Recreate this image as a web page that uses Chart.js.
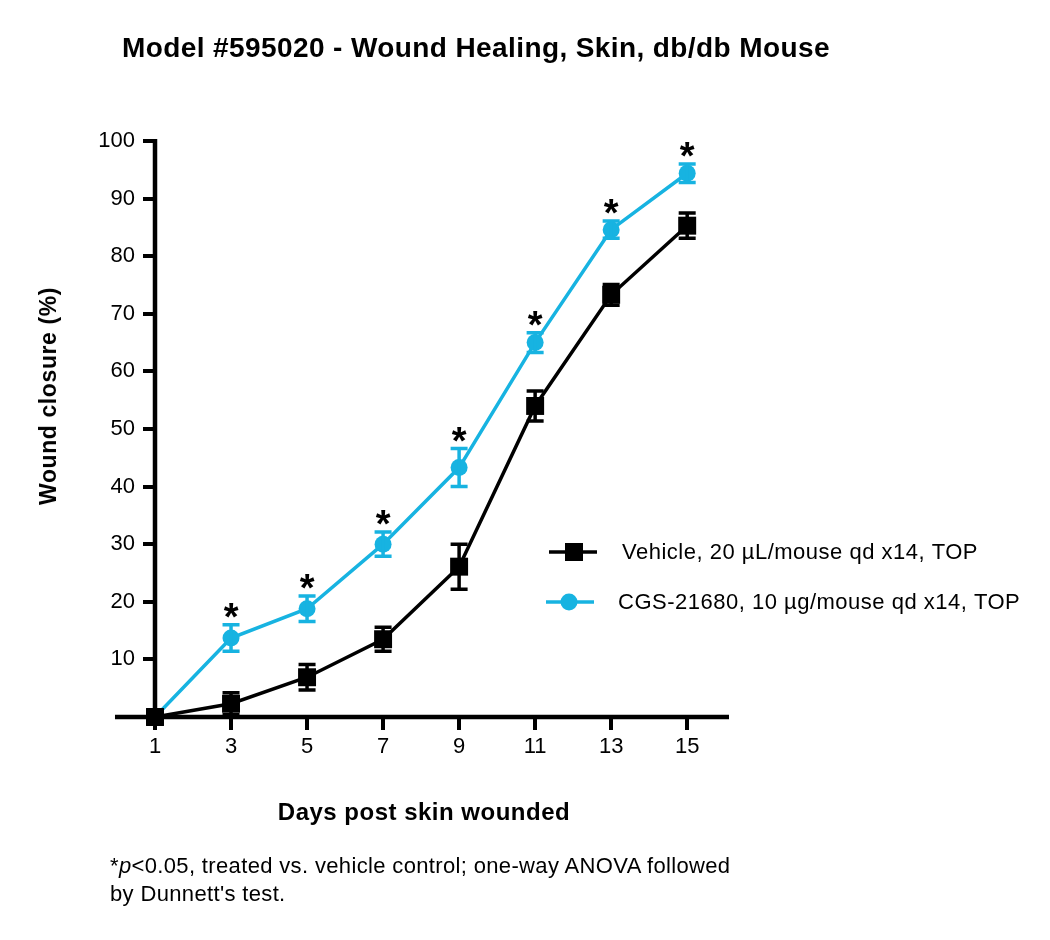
<!DOCTYPE html>
<html>
<head>
<meta charset="utf-8">
<script src="https://cdn.jsdelivr.net/npm/chart.js@4.4.1/dist/chart.umd.min.js"></script>
<style>
    body { margin: 0; background: #fff; }
    #wrap { position: relative; width: 1050px; height: 940px; font-family: "Liberation Sans", Arial, sans-serif; color: #000; }
    #chart { position: absolute; left: 0; top: 0; }
    .txt { position: absolute; white-space: nowrap; }
    #title { left: 122px; top: 32px; font-size: 28px; line-height: 32px; font-weight: bold; letter-spacing: 0.4px; }
    #xTitle { left: 424px; top: 798px; font-size: 24px; line-height: 28px; font-weight: bold; letter-spacing: 0.5px; transform: translateX(-50%); }
    #yTitle { left: 48px; top: 396px; font-size: 23px; line-height: 28px; font-weight: bold; letter-spacing: 0.6px; transform: translate(-50%, -50%) rotate(-90deg); }
    #note { left: 110px; top: 852px; font-size: 22px; line-height: 28px; letter-spacing: 0.35px; }
</style>
</head>
<body>
<div id="wrap">
    <canvas id="chart" width="1050" height="940"></canvas>
    <div class="txt" id="title">Model #595020 - Wound Healing, Skin, db/db Mouse</div>
    <div class="txt" id="yTitle">Wound closure (%)</div>
    <div class="txt" id="xTitle">Days post skin wounded</div>
    <div class="txt" id="note">*<i>p</i>&lt;0.05, treated vs. vehicle control; one-way ANOVA followed<br>by Dunnett's test.</div>
</div>
<script>
const days = [1, 3, 5, 7, 9, 11, 13, 15];
const xTicks = [1, 3, 5, 7, 9, 11, 13, 15];
const yTicks = [10, 20, 30, 40, 50, 60, 70, 80, 90, 100];

const vehicleLabel = 'Vehicle, 20 \u00b5L/mouse qd x14, TOP';
const vehicleMean = [0, 2.3, 6.9, 13.5, 26.1, 54.0, 73.3, 85.3];
const vehicleSem = [0, 1.9, 2.2, 2.1, 3.9, 2.6, 1.8, 2.2];

const cgsLabel = 'CGS-21680, 10 \u00b5g/mouse qd x14, TOP';
const cgsMean = [0, 13.7, 18.8, 30.0, 43.3, 65.0, 84.6, 94.4];
const cgsSem = [0, 2.3, 2.2, 2.1, 3.3, 1.7, 1.5, 1.6];
const cgsSig = [false, true, true, true, true, true, true, true];

const BLACK = '#000000';
const CYAN = '#17b3e1';

const series = [
    { label: vehicleLabel, mean: vehicleMean, sem: vehicleSem, color: BLACK, style: 'rect' },
    { label: cgsLabel, mean: cgsMean, sem: cgsSem, color: CYAN, style: 'circle' }
];

function toPoints(mean) {
    return days.map((d, i) => ({ x: d, y: mean[i] }));
}

function tickList(values) {
    return values.map(v => ({ value: v }));
}

// axis lines, x axis runs a bit left of the y axis like the original
const axisLines = {
    id: 'axisLines',
    beforeDatasetsDraw(chart) {
        const { ctx, scales: { x, y } } = chart;
        const y0 = y.getPixelForValue(0);
        const x0 = x.getPixelForValue(1);
        ctx.save();
        ctx.strokeStyle = BLACK;
        ctx.lineWidth = 4.5;
        ctx.beginPath();
        ctx.moveTo(x.getPixelForValue(0) - 2, y0);
        ctx.lineTo(x.right, y0);
        ctx.moveTo(x0, y0);
        ctx.lineTo(x0, y.getPixelForValue(100) - 2);
        ctx.stroke();
        ctx.restore();
    }
};

const errorBars = {
    id: 'errorBars',
    afterDatasetDraw(chart, args) {
        const s = series[args.index];
        const { ctx, scales: { x, y } } = chart;
        ctx.save();
        ctx.strokeStyle = s.color;
        ctx.lineWidth = 3.5;
        days.forEach((d, i) => {
            if (!s.sem[i]) return;
            const px = x.getPixelForValue(d);
            const top = y.getPixelForValue(s.mean[i] + s.sem[i]);
            const bot = y.getPixelForValue(s.mean[i] - s.sem[i]);
            ctx.beginPath();
            ctx.moveTo(px, top); ctx.lineTo(px, bot);
            ctx.moveTo(px - 8.5, top); ctx.lineTo(px + 8.5, top);
            ctx.moveTo(px - 8.5, bot); ctx.lineTo(px + 8.5, bot);
            ctx.stroke();
        });
        ctx.restore();
    }
};

const extras = {
    id: 'extras',
    afterDraw(chart) {
        const { ctx, scales: { x, y } } = chart;
        ctx.save();
        // significance stars
        ctx.fillStyle = BLACK;
        ctx.font = 'bold 38px "Liberation Sans", Arial, sans-serif';
        ctx.textAlign = 'center';
        ctx.textBaseline = 'alphabetic';
        days.forEach((d, i) => {
            if (!cgsSig[i]) return;
            const top = y.getPixelForValue(cgsMean[i] + cgsSem[i]);
            ctx.fillText('*', x.getPixelForValue(d), top - 16 + 21);
        });

        // legend
        const rows = [
            { s: series[0], y: 552, x1: 549, x2: 597, mx: 574, tx: 622 },
            { s: series[1], y: 602, x1: 546, x2: 594, mx: 569, tx: 618 }
        ];
        ctx.font = '22px "Liberation Sans", Arial, sans-serif';
        ctx.textAlign = 'left';
        ctx.textBaseline = 'middle';
        ctx.letterSpacing = '0.5px';
        rows.forEach(r => {
            ctx.strokeStyle = r.s.color;
            ctx.fillStyle = r.s.color;
            ctx.lineWidth = 3.5;
            ctx.beginPath();
            ctx.moveTo(r.x1, r.y); ctx.lineTo(r.x2, r.y);
            ctx.stroke();
            ctx.beginPath();
            if (r.s.style === 'rect') ctx.rect(r.mx - 9, r.y - 9, 18, 18);
            else ctx.arc(r.mx, r.y, 8.5, 0, Math.PI * 2);
            ctx.fill();
            ctx.fillStyle = BLACK;
            ctx.fillText(r.s.label, r.tx, r.y + 1);
        });
        ctx.restore();
    }
};

const tickFont = { family: '"Liberation Sans", Arial, sans-serif', size: 22 };

new Chart(document.getElementById('chart'), {
    type: 'line',
    data: {
        datasets: series.map(s => ({
            label: s.label,
            data: toPoints(s.mean),
            borderColor: s.color,
            backgroundColor: s.color,
            borderWidth: 3.5,
            pointStyle: s.style,
            pointRadius: s.style === 'rect' ? 12.7 : 8.5,
            pointBorderWidth: 0,
            tension: 0,
            clip: false
        }))
    },
    options: {
        responsive: false,
        animation: false,
        devicePixelRatio: 1,
        layout: { padding: { left: 20, top: 141, right: 321, bottom: 163 } },
        plugins: { legend: { display: false }, tooltip: { enabled: false } },
        scales: {
            x: {
                type: 'linear',
                min: 1,
                max: 16.1,
                afterBuildTicks: s => { s.ticks = tickList(xTicks); },
                afterFit: s => { s.height = 60; },
                border: { display: false },
                grid: { drawOnChartArea: false, drawTicks: true, tickLength: 13, lineWidth: 4, color: BLACK },
                ticks: { color: BLACK, font: tickFont, padding: 4, maxRotation: 0, autoSkip: false }
            },
            y: {
                min: 0,
                max: 100,
                afterBuildTicks: s => { s.ticks = tickList(yTicks); },
                afterFit: s => { s.width = 135; },
                border: { display: false },
                grid: { drawOnChartArea: false, drawTicks: true, tickLength: 12, lineWidth: 4, color: BLACK },
                ticks: { color: BLACK, font: tickFont, padding: 8 }
            }
        }
    },
    plugins: [axisLines, errorBars, extras]
});
</script>
</body>
</html>
